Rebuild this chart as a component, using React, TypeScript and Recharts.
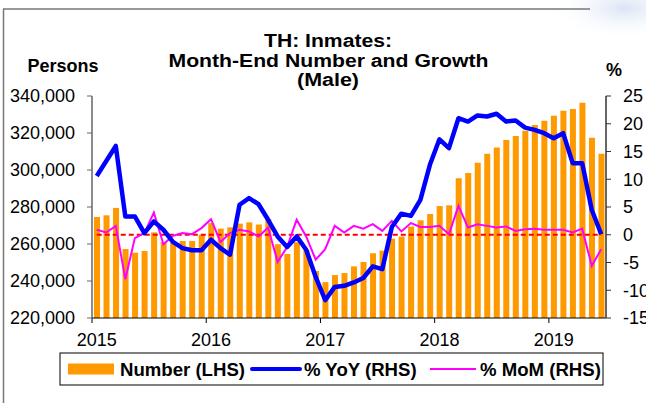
import React from "react";
import { ComposedChart, Bar, Line, XAxis, YAxis } from "recharts";

// Month-end male inmates, Jan 2015 - Jun 2019
const numberLhs = [
  274600, 275500, 279500, 257300, 255300, 256200, 266300, 261000, 260800, 261600, 261600, 265000,
  271300, 268300, 269000, 271000, 271700, 270600, 273500, 259900, 254600, 261000, 256900, 245400,
  239400, 243200, 244300, 247900, 250300, 255000, 256400, 262900, 264000, 269400, 272800, 276200,
  280500, 280900, 295500, 298400, 303900, 308800, 312200, 316200, 318400, 321200, 324300, 326600,
  329300, 332000, 333000, 336400, 317500, 308800,
];

const yoyRhs = [
  10.6, 13.3, 16.0, 3.3, 3.3, 0.3, 2.4, 0.9, -1.3, -2.4, -2.8, -2.8,
  -0.9, -2.4, -3.6, 5.4, 6.6, 5.5, 2.7, -0.3, -2.2, -0.3, -2.7, -7.6,
  -11.8, -9.4, -9.2, -8.6, -7.8, -5.7, -6.2, 1.4, 3.8, 3.4, 6.3, 12.6,
  17.2, 15.6, 21.0, 20.4, 21.5, 21.3, 21.8, 20.4, 20.6, 19.3, 18.9, 18.3,
  17.4, 18.3, 12.9, 12.9, 4.5, 0.1,
];

const momRhs = [
  0.9, 0.4, 1.6, -8.0, -0.6, 0.3, 4.0, -1.7, -0.2, 0.3, 0.1, 1.2,
  2.8, -1.3, 0.3, 0.9, 0.6, -0.3, 1.3, -4.9, -2.2, 2.7, -0.3, -4.5,
  -2.6, 1.6, 0.4, 1.6, 1.1, 1.9, 0.7, 2.5, 0.6, 2.1, 1.4, 1.4,
  1.6, 0.1, 5.2, 1.3, 1.9, 1.6, 1.3, 1.5, 0.7, 1.0, 1.1, 0.9,
  0.9, 0.9, 0.4, 1.1, -5.6, -2.6,
];

const yearLabels = ["2015", "2016", "2017", "2018", "2019"];
const yearStarts = [0, 12, 24, 36, 48];
const leftTicks = [220000, 240000, 260000, 280000, 300000, 320000, 340000];
const rightTicks = [-15, -10, -5, 0, 5, 10, 15, 20, 25];

const data = numberLhs.map((n, i) => ({
  t: i + 0.5,
  number: n,
  yoy: yoyRhs[i],
  mom: momRhs[i],
  zero: 0,
}));

const FONT = "'Liberation Sans', Arial, sans-serif";

function YearTick({ x, y, payload }: any) {
  const idx = yearStarts.indexOf(payload.value);
  // label sits on the January bar, the tick mark on the year boundary
  return (
    <text x={x + 4.76} y={y} dy={12.7} textAnchor="middle" fontSize={18} fill="#000" fontFamily={FONT}>
      {yearLabels[idx]}
    </text>
  );
}

export default function App() {
  return (
    <div
      style={{
        position: "absolute",
        left: 0,
        top: 0,
        width: 646,
        height: 403,
        overflow: "hidden",
        background: "#fff",
        fontFamily: FONT,
      }}
    >
      <ComposedChart width={646} height={403} data={data} margin={{ top: 96, right: 0, bottom: 55, left: 0 }}>
        <XAxis
          dataKey="t"
          type="number"
          domain={[0, 54]}
          ticks={yearStarts}
          interval={0}
          height={30}
          tickSize={5}
          tickMargin={10}
          axisLine={{ stroke: "#000", strokeWidth: 1 }}
          tickLine={{ stroke: "#000" }}
          tick={<YearTick />}
        />
        <YAxis
          yAxisId="left"
          orientation="left"
          width={92}
          domain={[220000, 340000]}
          ticks={leftTicks}
          interval={0}
          tickSize={5}
          tickMargin={12}
          axisLine={{ stroke: "#666", strokeWidth: 1.5 }}
          tickLine={{ stroke: "#666" }}
          tick={{ fill: "#000", fontSize: 18, fontFamily: FONT }}
          tickFormatter={(v: number) => String(v).replace(/\B(?=(\d{3})+(?!\d))/g, ",")}
        />
        <YAxis
          yAxisId="right"
          orientation="right"
          width={40}
          domain={[-15, 25]}
          ticks={rightTicks}
          interval={0}
          tickSize={5}
          tickMargin={12}
          axisLine={{ stroke: "#333", strokeWidth: 1.5 }}
          tickLine={{ stroke: "#333" }}
          tick={{ fill: "#000", fontSize: 18, fontFamily: FONT }}
        />
        <Bar yAxisId="left" dataKey="number" fill="#FF9900" barSize={6} isAnimationActive={false} />
        <Line
          yAxisId="right"
          dataKey="zero"
          stroke="#FF0000"
          strokeWidth={2}
          strokeDasharray="5 3"
          dot={false}
          activeDot={false}
          isAnimationActive={false}
        />
        <Line
          yAxisId="right"
          dataKey="mom"
          type="linear"
          stroke="#FF00FF"
          strokeWidth={2}
          dot={false}
          activeDot={false}
          isAnimationActive={false}
        />
        <Line
          yAxisId="right"
          dataKey="yoy"
          type="linear"
          stroke="#0000FF"
          strokeWidth={4.5}
          strokeLinejoin="round"
          dot={false}
          activeDot={false}
          isAnimationActive={false}
        />
      </ComposedChart>

      <svg width={646} height={403} style={{ position: "absolute", left: 0, top: 0, pointerEvents: "none" }}>
        <defs>
          <radialGradient id="glow" cx="0.5" cy="0.5" r="0.5">
            <stop offset="0%" stopColor="#d9e4f4" />
            <stop offset="100%" stopColor="#ffffff" stopOpacity={0} />
          </radialGradient>
        </defs>
        <ellipse cx={625} cy={8} rx={75} ry={32} fill="url(#glow)" />
        <line x1={3.5} y1={9} x2={3.5} y2={403} stroke="#777" strokeWidth={1.5} />
        <line x1={3} y1={9} x2={590} y2={9} stroke="#777" strokeWidth={1.5} />

        {/* title glyphs are a little wider than plain Arial, so stretch them */}
        <g fontFamily={FONT} fontWeight="bold" fill="#000">
          <text x={328} y={47} fontSize={17.5} textAnchor="middle" textLength={128} lengthAdjust="spacingAndGlyphs">
            TH: Inmates:
          </text>
          <text x={328.5} y={66.5} fontSize={17.5} textAnchor="middle" textLength={320} lengthAdjust="spacingAndGlyphs">
            Month-End Number and Growth
          </text>
          <text x={328} y={86} fontSize={17.5} textAnchor="middle" textLength={62} lengthAdjust="spacingAndGlyphs">
            (Male)
          </text>
          <text x={63} y={72} fontSize={18} textAnchor="middle">Persons</text>
          <text x={614} y={76} fontSize={18} textAnchor="middle">%</text>
        </g>

        <rect x={60} y={353} width={543} height={32} fill="#fff" stroke="#000" strokeWidth={1} />
        <rect x={68} y={363.5} width={46} height={11} fill="#FF9900" />
        <line x1={252} y1={369} x2={300} y2={369} stroke="#0000FF" strokeWidth={4} strokeLinecap="round" />
        <line x1={430} y1={369} x2={476} y2={369} stroke="#FF00FF" strokeWidth={2} />
        <g fontFamily={FONT} fontWeight="bold" fontSize={18.6} fill="#000">
          <text x={120} y={375.5}>Number (LHS)</text>
          <text x={304} y={375.5}>% YoY (RHS)</text>
          <text x={480} y={375.5}>% MoM (RHS)</text>
        </g>
      </svg>
    </div>
  );
}
